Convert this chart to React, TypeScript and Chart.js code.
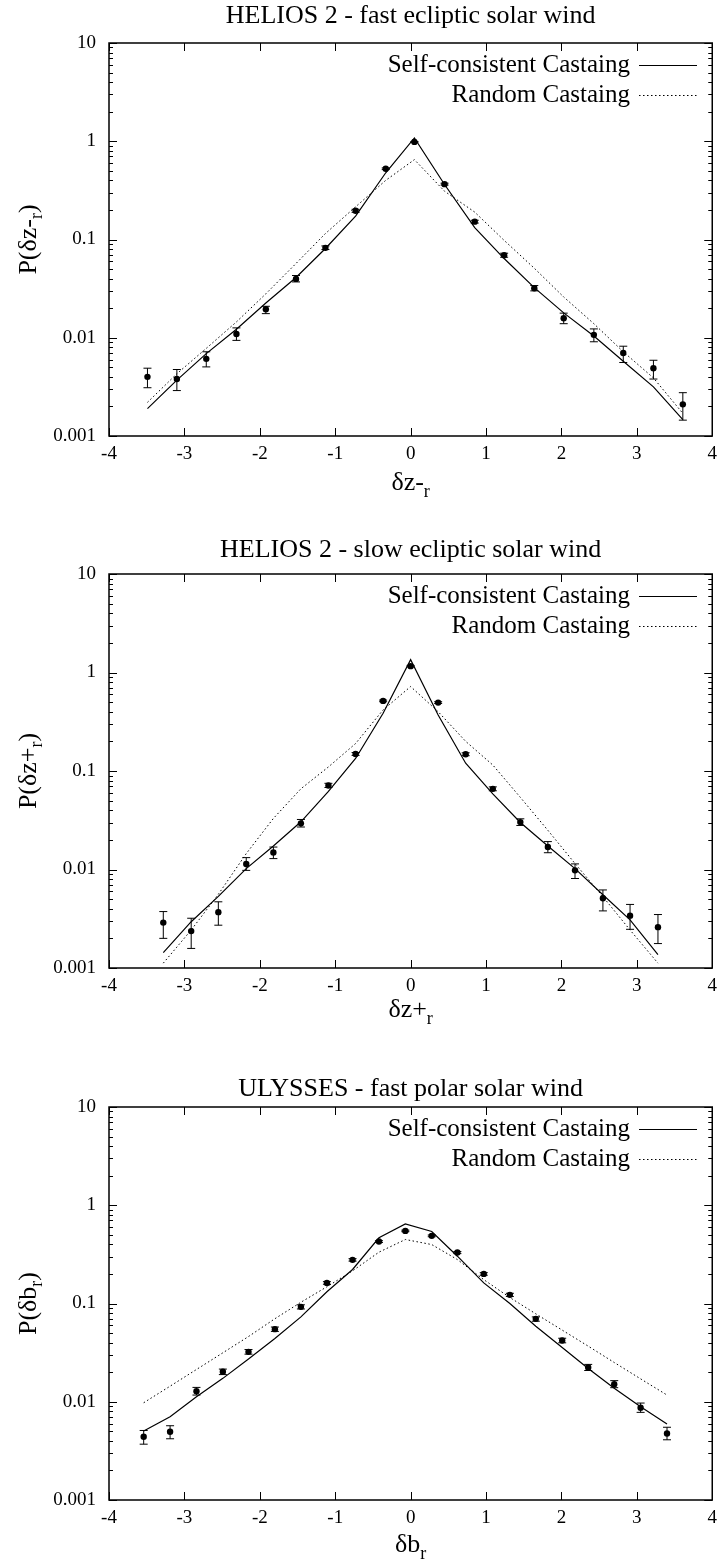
import React, { useEffect, useRef } from 'react';
import { Chart, registerables } from 'chart.js';

Chart.register(...registerables);

const SERIF = "'Liberation Serif', 'Times New Roman', Times, serif";

// Shared axis ticks
const xTickValues = [-4, -3, -2, -1, 0, 1, 2, 3, 4];
const yTickValues = [0.001, 0.01, 0.1, 1, 10];
const yTickLabels = ['0.001', '0.01', '0.1', '1', '10'];
const legendLabels = ['Self-consistent Castaing', 'Random Castaing'];

// Panel titles and axis names (subscript "r" is drawn separately)
const panelTitles = [
  'HELIOS 2 - fast ecliptic solar wind',
  'HELIOS 2 - slow ecliptic solar wind',
  'ULYSSES - fast polar solar wind',
];
const axisNames = ['δz-', 'δz+', 'δb'];
const axisSub = 'r';

// HELIOS 2, fast ecliptic wind: δz-_r
const fastX = [-3.49, -3.10, -2.71, -2.31, -1.92, -1.52, -1.13, -0.73, -0.33, 0.05, 0.45, 0.85, 1.24, 1.64, 2.03, 2.43, 2.82, 3.22, 3.61];
const fastP = [0.0040, 0.0038, 0.0061, 0.0109, 0.0195, 0.0397, 0.0822, 0.196, 0.525, 0.985, 0.366, 0.152, 0.0692, 0.0319, 0.0158, 0.0107, 0.0070, 0.0049, 0.0021];
const fastLo = [0.0031, 0.0029, 0.00505, 0.0094, 0.0176, 0.037, 0.079, 0.189, 0.515, 0.975, 0.358, 0.147, 0.066, 0.030, 0.0139, 0.0091, 0.0056, 0.0038, 0.00145];
const fastHi = [0.0049, 0.00475, 0.0072, 0.0126, 0.0209, 0.043, 0.086, 0.203, 0.535, 0.995, 0.374, 0.157, 0.0725, 0.034, 0.0178, 0.0123, 0.0082, 0.0059, 0.00276];
const fastSelf = [0.0019, 0.0037, 0.0069, 0.0122, 0.0226, 0.041, 0.081, 0.173, 0.478, 1.08, 0.363, 0.132, 0.064, 0.0324, 0.0179, 0.0104, 0.00577, 0.00316, 0.00147];
const fastRandom = [0.0022, 0.0043, 0.0078, 0.0145, 0.028, 0.057, 0.115, 0.215, 0.40, 0.65, 0.31, 0.19, 0.098, 0.051, 0.026, 0.0139, 0.0072, 0.0039, 0.0017];

// HELIOS 2, slow ecliptic wind: δz+_r
const slowX = [-3.28, -2.91, -2.55, -2.18, -1.82, -1.455, -1.09, -0.73, -0.365, 0, 0.365, 0.73, 1.09, 1.455, 1.82, 2.18, 2.55, 2.91, 3.28];
const slowP = [0.00289, 0.00237, 0.00369, 0.0114, 0.0149, 0.0294, 0.0713, 0.149, 0.515, 1.16, 0.495, 0.148, 0.0659, 0.0303, 0.0169, 0.0098, 0.0051, 0.0034, 0.0026];
const slowLo = [0.0020, 0.00158, 0.00272, 0.0098, 0.0129, 0.0270, 0.068, 0.144, 0.505, 1.14, 0.485, 0.143, 0.063, 0.0280, 0.0148, 0.0081, 0.0038, 0.00247, 0.00177];
const slowHi = [0.00374, 0.0032, 0.0047, 0.0132, 0.0169, 0.0322, 0.075, 0.154, 0.525, 1.18, 0.505, 0.153, 0.069, 0.0327, 0.0192, 0.0114, 0.0062, 0.00442, 0.00349];
const slowSelf = [0.00143, 0.00295, 0.00533, 0.0102, 0.0173, 0.0305, 0.062, 0.134, 0.386, 1.35, 0.37, 0.12, 0.0586, 0.030, 0.0173, 0.0102, 0.00555, 0.00308, 0.00137];
const slowRandom = [0.00112, 0.00243, 0.0056, 0.0145, 0.033, 0.066, 0.11, 0.19, 0.417, 0.72, 0.40, 0.20, 0.115, 0.054, 0.025, 0.0115, 0.0053, 0.00243, 0.00112];

// ULYSSES, fast polar wind: δb_r
const polarX = [-3.54, -3.19, -2.84, -2.49, -2.15, -1.80, -1.455, -1.11, -0.77, -0.42, -0.07, 0.28, 0.62, 0.97, 1.316, 1.66, 2.01, 2.355, 2.70, 3.05, 3.40];
const polarP = [0.0044, 0.00495, 0.0128, 0.0202, 0.0322, 0.0548, 0.0925, 0.162, 0.278, 0.427, 0.548, 0.488, 0.330, 0.200, 0.1225, 0.0698, 0.042, 0.0223, 0.0151, 0.0087, 0.00476];
const polarLo = [0.0037, 0.0042, 0.0117, 0.0189, 0.0305, 0.052, 0.088, 0.157, 0.27, 0.418, 0.538, 0.478, 0.322, 0.194, 0.118, 0.066, 0.0398, 0.0208, 0.0139, 0.0078, 0.0041];
const polarHi = [0.0051, 0.0057, 0.0140, 0.0215, 0.034, 0.0576, 0.097, 0.167, 0.286, 0.436, 0.558, 0.498, 0.338, 0.206, 0.127, 0.073, 0.0443, 0.0240, 0.0164, 0.0097, 0.0055];
const polarSelf = [0.00503, 0.00703, 0.01124, 0.0173, 0.0272, 0.044, 0.0731, 0.1315, 0.222, 0.466, 0.646, 0.54, 0.303, 0.162, 0.10, 0.0587, 0.0357, 0.0218, 0.0137, 0.0089, 0.00593];
const polarRandom = [0.00977, 0.0144, 0.0213, 0.0315, 0.0461, 0.070, 0.103, 0.148, 0.215, 0.333, 0.448, 0.398, 0.28, 0.175, 0.115, 0.0785, 0.0536, 0.0368, 0.0251, 0.0171, 0.0117];

type Series = {
  xs: number[];
  obs: number[];
  lo: number[];
  hi: number[];
  selfC: number[];
  rand: number[];
};

type Geometry = {
  top: number; // canvas top on page
  height: number; // canvas height
  plotTop: number;
  plotBottom: number;
  titleBase: number;
  xNameBase: number;
};

const W = 724;
const PLOT_LEFT = 109;
const PLOT_RIGHT_PAD = 7;

function drawWithSub(
  ctx: CanvasRenderingContext2D,
  main: string,
  sub: string,
  tail: string,
  cx: number,
  base: number,
  mainSize: number,
  subSize: number,
  drop: number,
) {
  const mf = `${mainSize}px ${SERIF}`;
  const sf = `${subSize}px ${SERIF}`;
  ctx.font = mf;
  const w1 = ctx.measureText(main).width;
  const w3 = tail ? ctx.measureText(tail).width : 0;
  ctx.font = sf;
  const w2 = ctx.measureText(sub).width;
  let x = cx - (w1 + w2 + w3) / 2;
  ctx.textAlign = 'left';
  ctx.textBaseline = 'alphabetic';
  ctx.font = mf;
  ctx.fillText(main, x, base);
  x += w1;
  ctx.font = sf;
  ctx.fillText(sub, x, base + drop);
  x += w2;
  if (tail) {
    ctx.font = mf;
    ctx.fillText(tail, x, base);
  }
}

function Panel({ idx, s, g }: { idx: number; s: Series; g: Geometry }) {
  const ref = useRef<HTMLCanvasElement>(null);

  useEffect(() => {
    const canvas = ref.current;
    if (!canvas) return;

    const decorations = {
      id: 'gnuplotFrame',
      afterDatasetsDraw(chart: any) {
        const ctx: CanvasRenderingContext2D = chart.ctx;
        const { left, right, top, bottom } = chart.chartArea;
        const xs = chart.scales.x;
        const ys = chart.scales.y;
        ctx.save();
        ctx.strokeStyle = '#000';
        ctx.fillStyle = '#000';

        // error bars
        ctx.lineWidth = 1;
        s.xs.forEach((xv, i) => {
          const px = xs.getPixelForValue(xv);
          const pLo = ys.getPixelForValue(s.lo[i]);
          const pHi = ys.getPixelForValue(s.hi[i]);
          ctx.beginPath();
          ctx.moveTo(px, pLo);
          ctx.lineTo(px, pHi);
          ctx.moveTo(px - 4, pLo);
          ctx.lineTo(px + 4, pLo);
          ctx.moveTo(px - 4, pHi);
          ctx.lineTo(px + 4, pHi);
          ctx.stroke();
        });

        // frame
        ctx.lineWidth = 1.5;
        ctx.strokeRect(left, top, right - left, bottom - top);

        // x tick marks, bottom and top, pointing inwards
        ctx.lineWidth = 1;
        ctx.beginPath();
        xTickValues.forEach((v) => {
          const px = Math.round(xs.getPixelForValue(v)) + 0.5;
          ctx.moveTo(px, bottom);
          ctx.lineTo(px, bottom - 8);
          ctx.moveTo(px, top);
          ctx.lineTo(px, top + 8);
        });
        // y major and minor tick marks, both sides
        yTickValues.forEach((d, k) => {
          const py = Math.round(ys.getPixelForValue(d)) + 0.5;
          ctx.moveTo(left, py);
          ctx.lineTo(left + 8, py);
          ctx.moveTo(right, py);
          ctx.lineTo(right - 8, py);
          if (k < yTickValues.length - 1) {
            for (let m = 2; m <= 9; m++) {
              const pm = Math.round(ys.getPixelForValue(d * m)) + 0.5;
              ctx.moveTo(left, pm);
              ctx.lineTo(left + 4, pm);
              ctx.moveTo(right, pm);
              ctx.lineTo(right - 4, pm);
            }
          }
        });
        ctx.stroke();

        // legend
        const legX = 630;
        const rows = [top + 22, top + 52];
        ctx.font = `25px ${SERIF}`;
        ctx.textAlign = 'right';
        ctx.textBaseline = 'middle';
        legendLabels.forEach((lab, r) => {
          const ds = chart.data.datasets[r];
          ctx.fillText(lab, legX, rows[r]);
          ctx.save();
          ctx.lineWidth = ds.borderWidth;
          ctx.setLineDash(ds.borderDash || []);
          ctx.beginPath();
          ctx.moveTo(639, rows[r] + 0.5);
          ctx.lineTo(697, rows[r] + 0.5);
          ctx.stroke();
          ctx.restore();
        });

        // panel title
        const midX = (left + right) / 2;
        ctx.font = `26px ${SERIF}`;
        ctx.textAlign = 'center';
        ctx.textBaseline = 'alphabetic';
        ctx.fillText(panelTitles[idx], midX, g.titleBase);

        // x axis name
        drawWithSub(ctx, axisNames[idx], axisSub, '', midX, g.xNameBase, 26, 18, 7);

        // y axis name, rotated
        ctx.save();
        ctx.translate(36, (top + bottom) / 2);
        ctx.rotate(-Math.PI / 2);
        drawWithSub(ctx, 'P(' + axisNames[idx], axisSub, ')', 0, 0, 26, 18, 6);
        ctx.restore();

        ctx.restore();
      },
    };

    const chart = new Chart(canvas, {
      type: 'scatter',
      data: {
        datasets: [
          {
            label: legendLabels[0],
            data: s.xs.map((x, i) => ({ x, y: s.selfC[i] })),
            showLine: true,
            borderColor: '#000',
            borderWidth: 1.2,
            pointRadius: 0,
            tension: 0,
          },
          {
            label: legendLabels[1],
            data: s.xs.map((x, i) => ({ x, y: s.rand[i] })),
            showLine: true,
            borderColor: '#000',
            borderWidth: 1,
            borderDash: [1.5, 2.5],
            pointRadius: 0,
            tension: 0,
          },
          {
            label: 'observed',
            data: s.xs.map((x, i) => ({ x, y: s.obs[i] })),
            showLine: false,
            pointRadius: 3.2,
            pointBackgroundColor: '#000',
            pointBorderColor: '#000',
            pointBorderWidth: 0,
          },
        ],
      } as any,
      options: {
        responsive: false,
        animation: false,
        events: [],
        layout: { padding: { top: g.plotTop, right: PLOT_RIGHT_PAD, left: 0, bottom: 0 } },
        plugins: {
          legend: { display: false },
          tooltip: { enabled: false },
          title: { display: false },
        },
        scales: {
          x: {
            type: 'linear',
            min: -4,
            max: 4,
            afterBuildTicks: (sc: any) => {
              sc.ticks = xTickValues.map((v) => ({ value: v }));
            },
            afterFit: (sc: any) => {
              sc.height = g.height - g.plotBottom;
            },
            ticks: {
              callback: (v: any) => String(v),
              font: { family: SERIF, size: 19 },
              color: '#000',
              padding: 7,
              maxRotation: 0,
              autoSkip: false,
            },
            grid: { display: false, drawTicks: false },
            border: { display: false },
          },
          y: {
            type: 'logarithmic',
            min: 0.001,
            max: 10,
            afterBuildTicks: (sc: any) => {
              sc.ticks = yTickValues.map((v) => ({ value: v }));
            },
            afterFit: (sc: any) => {
              sc.width = PLOT_LEFT;
            },
            ticks: {
              callback: (_v: any, i: number) => yTickLabels[i],
              font: { family: SERIF, size: 19 },
              color: '#000',
              padding: 13,
              autoSkip: false,
            },
            grid: { display: false, drawTicks: false },
            border: { display: false },
          },
        },
      } as any,
      plugins: [decorations],
    });

    return () => chart.destroy();
  }, [idx, s, g]);

  return (
    <canvas
      ref={ref}
      width={W}
      height={g.height}
      style={{ position: 'absolute', left: 0, top: g.top, display: 'block' }}
    />
  );
}

const series: Series[] = [
  { xs: fastX, obs: fastP, lo: fastLo, hi: fastHi, selfC: fastSelf, rand: fastRandom },
  { xs: slowX, obs: slowP, lo: slowLo, hi: slowHi, selfC: slowSelf, rand: slowRandom },
  { xs: polarX, obs: polarP, lo: polarLo, hi: polarHi, selfC: polarSelf, rand: polarRandom },
];

const geometries: Geometry[] = [
  { top: 0, height: 521, plotTop: 43, plotBottom: 436, titleBase: 23, xNameBase: 490 },
  { top: 521, height: 521, plotTop: 53, plotBottom: 447, titleBase: 36, xNameBase: 496 },
  { top: 1042, height: 522, plotTop: 65, plotBottom: 458, titleBase: 54, xNameBase: 510 },
];

export default function App() {
  return (
    <div
      style={{
        position: 'absolute',
        left: 0,
        top: 0,
        width: W,
        height: 1564,
        background: '#fff',
        overflow: 'hidden',
      }}
    >
      {series.map((s, i) => (
        <Panel key={i} idx={i} s={s} g={geometries[i]} />
      ))}
    </div>
  );
}
